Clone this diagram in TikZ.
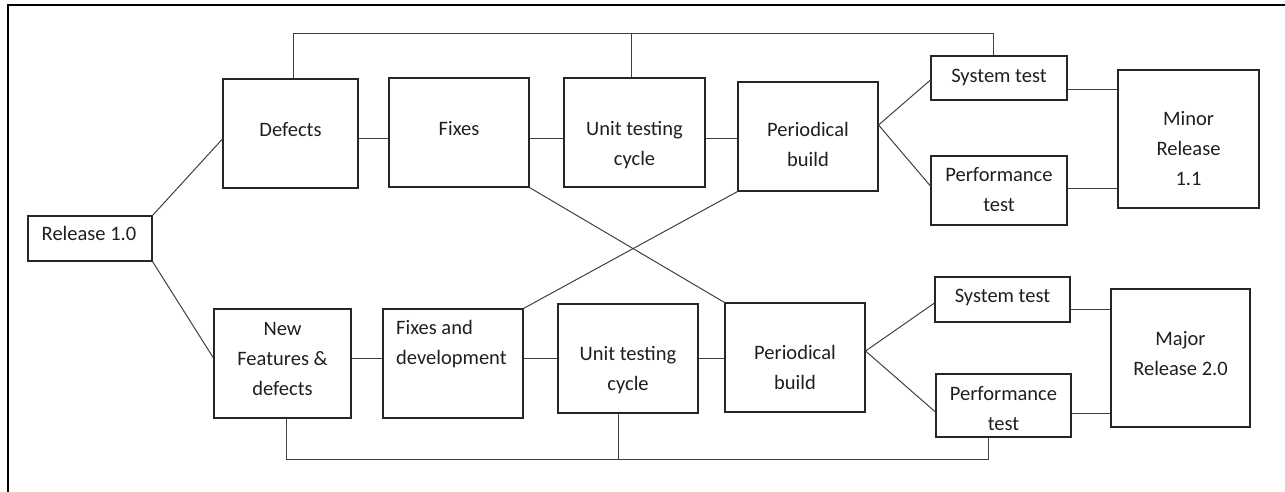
\documentclass[tikz,border=0pt]{standalone}
\usepackage{fontspec}
\setmainfont{Carlito}
\begin{document}
\begin{tikzpicture}[x=1pt,y=-1pt,
  box/.style={draw=black!85,line width=1.1pt,inner sep=0pt,rectangle},
  txt/.style={inner sep=0pt,align=center,text=black!88,font=\fontsize{20.5}{30}\selectfont,anchor=north},
  conn/.style={draw=black!75,line width=1pt},
  frame/.style={draw=black,line width=1.7pt}]
\useasboundingbox (0,0) rectangle (1285,491);
\newcommand\bx[5]{\node[box,minimum width={(#4-#2)*1pt},minimum height={(#5-#3)*1pt}] (#1) at ({(#2+#4)/2},{(#3+#5)/2}) {};}
% frame
\coordinate (fTL) at (8,5);
\coordinate (fTR) at (1290,5);
\coordinate (fBL) at (8,496);
\draw[frame] (fBL) -- (fTL) -- (fTR);
% boxes top row
\bx{rel}{28}{216}{152}{261}
\bx{def}{223}{79}{358}{188}
\bx{fix}{389}{78}{529}{187}
\bx{ut}{564}{78}{705}{187}
\bx{pb}{738}{82}{878}{191}
\bx{st}{931}{56}{1067}{100}
\bx{pt}{931}{156}{1067}{225}
\bx{minor}{1118}{70}{1259}{208}
% boxes bottom row
\bx{nf}{214}{309}{351}{418}
\bx{fd}{383}{309}{523}{418}
\bx{utb}{558}{304}{698}{413}
\bx{pbb}{725}{303}{865}{412}
\bx{stb}{935}{277}{1070}{322}
\bx{ptb}{936}{374}{1071}{437}
\bx{major}{1111}{289}{1250}{427}
% texts
\node[txt] (rel-t) at (89,224) {\rule{0pt}{16pt}Release 1.0};
\node[txt] (def-t) at (290.5,120) {\rule{0pt}{16pt}Defects};
\node[txt] (fix-t) at (459,119) {\rule{0pt}{16pt}Fixes};
\node[txt] (ut-t) at (634.5,119) {\rule{0pt}{16pt}Unit testing\\cycle};
\node[txt] (pb-t) at (808,120) {\rule{0pt}{16pt}Periodical\\build};
\node[txt] (st-t) at (999,66) {\rule{0pt}{16pt}System test};
\node[txt] (pt-t) at (999,165) {\rule{0pt}{16pt}Performance\\test};
\node[txt] (minor-t) at (1188.5,109) {\rule{0pt}{16pt}Minor\\Release\\1.1};
\node[txt] (nf-t) at (282.5,319) {\rule{0pt}{16pt}New\\Features \&\\defects};
\node[txt,anchor=north west,align=left] (fd-t) at (396,318) {\rule{0pt}{16pt}Fixes and\\development};
\node[txt] (utb-t) at (628,344) {\rule{0pt}{16pt}Unit testing\\cycle};
\node[txt] (pbb-t) at (795,343) {\rule{0pt}{16pt}Periodical\\build};
\node[txt] (stb-t) at (1002.5,286) {\rule{0pt}{16pt}System test};
\node[txt] (ptb-t) at (1003.5,384) {\rule{0pt}{16pt}Performance\\test};
\node[txt] (major-t) at (1180.5,329) {\rule{0pt}{16pt}Major\\Release 2.0};
% top row connectors
\draw[conn] (rel.north east) -- ([yshift=-5.5pt]def.west);
\path ([yshift=-4.5pt]def.east) coordinate (a1) ([yshift=-5.5pt]fix.east) coordinate (a2) ([yshift=-5.5pt]ut.east) coordinate (a3);
\draw[conn] (a1) -- (a1 -| fix.west);
\draw[conn] (a2) -- (a2 -| ut.west);
\draw[conn] (a3) -- (a3 -| pb.west);
\draw[conn] ([yshift=11.5pt]pb.east) -- ([yshift=-2pt]st.west);
\draw[conn] ([yshift=11.5pt]pb.east) -- ([yshift=4.5pt]pt.west);
\path ([yshift=-11pt]st.east) coordinate (a4) ([yshift=2.5pt]pt.east) coordinate (a5);
\draw[conn] (a4) -- (a4 -| minor.west);
\draw[conn] (a5) -- (a5 -| minor.west);
% top bus
\coordinate (busT) at (0,33);
\draw[conn] ([xshift=2.5pt]def.north) -- ([xshift=2.5pt]def.north |- busT) -- ([xshift=-6pt]st.north |- busT) -- ([xshift=-6pt]st.north);
\draw[conn] ([xshift=-3.5pt]ut.north) -- ([xshift=-3.5pt]ut.north |- busT);
% cross lines
\draw[conn] (fix.south east) -- (pbb.north west);
\draw[conn] (pb.south west) -- (fd.north east);
% bottom row connectors
\draw[conn] (rel.south east) -- ([yshift=5.5pt]nf.west);
\path ([yshift=5.5pt]nf.east) coordinate (b1) ([yshift=5.5pt]fd.east) coordinate (b2) ([yshift=0.5pt]utb.east) coordinate (b3);
\draw[conn] (b1) -- (b1 -| fd.west);
\draw[conn] (b2) -- (b2 -| utb.west);
\draw[conn] (b3) -- (b3 -| pbb.west);
\draw[conn] ([yshift=6.5pt]pbb.east) -- ([yshift=-3.5pt]stb.west);
\draw[conn] ([yshift=6.5pt]pbb.east) -- ([yshift=-6.5pt]ptb.west);
\path ([yshift=-9.5pt]stb.east) coordinate (b4) ([yshift=-7.5pt]ptb.east) coordinate (b5);
\draw[conn] (b4) -- (b4 -| major.west);
\draw[conn] (b5) -- (b5 -| major.west);
% bottom bus
\coordinate (busB) at (0,459);
\draw[conn] ([xshift=3.5pt]nf.south) -- ([xshift=3.5pt]nf.south |- busB) -- ([xshift=-15.5pt]ptb.south |- busB) -- ([xshift=-15.5pt]ptb.south);
\draw[conn] ([xshift=-10pt]utb.south) -- ([xshift=-10pt]utb.south |- busB);
\end{tikzpicture}
\end{document}
